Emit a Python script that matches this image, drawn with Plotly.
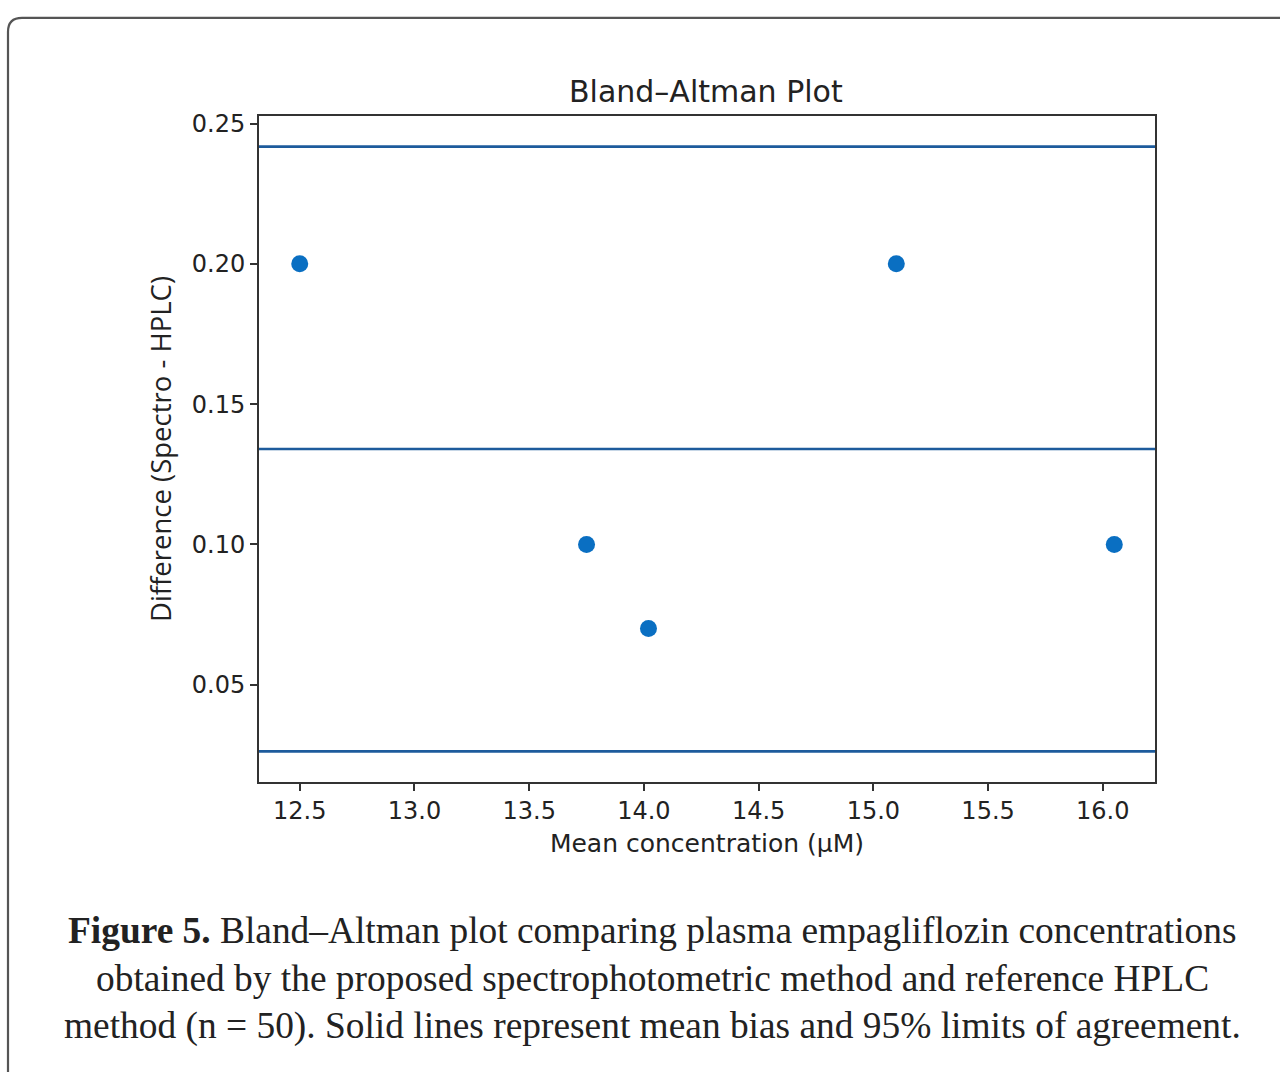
import numpy as np
import plotly.graph_objects as go

# Data
mean_conc = [12.5, 13.75, 14.02, 15.1, 16.05]
difference = [0.20, 0.10, 0.07, 0.20, 0.10]
x_ticks = [12.5, 13.0, 13.5, 14.0, 14.5, 15.0, 15.5, 16.0]
y_ticks = [0.05, 0.10, 0.15, 0.20, 0.25]

title_text = "Bland–Altman Plot"
x_title = "Mean concentration (μM)"
y_title = "Difference (Spectro - HPLC)"
caption_lines = [
    "<b>Figure 5.</b> Bland–Altman plot comparing plasma empagliflozin concentrations",
    "obtained by the proposed spectrophotometric method and reference HPLC",
    "method (n = 50). Solid lines represent mean bias and 95% limits of agreement.",
]

W, H = 1280, 1072
diffs = np.array(difference)
bias = diffs.mean()
sd = diffs.std()
loa_hi = bias + 1.96 * sd
loa_lo = bias - 1.96 * sd

def padded(lo, hi, m=0.05):
    r = hi - lo
    return [lo - m * r, hi + m * r]

xr = padded(min(mean_conc), max(mean_conc))
yr = padded(min(min(difference), loa_lo), max(max(difference), loa_hi))

def px(x):
    return x / W

def py(y):
    return 1 - y / H

fig = go.Figure()
fig.add_trace(go.Scatter(
    x=mean_conc, y=difference, mode="markers",
    marker=dict(size=17, color="#0a6fc2", line=dict(width=0)),
    showlegend=False, hoverinfo="skip",
))

for v in [loa_hi, bias, loa_lo]:
    fig.add_shape(type="line", xref="x domain", yref="y", x0=0, x1=1, y0=v, y1=v,
                  line=dict(color="#1d5b9c", width=2.6), layer="above")

tickfont = dict(family="DejaVu Sans", size=24, color="#222")
fig.update_xaxes(
    domain=[px(259), px(1155)], range=xr, tickvals=x_ticks,
    ticktext=[f"{t:.1f}" for t in x_ticks],
    showgrid=False, zeroline=False, showline=True, mirror=True,
    linecolor="#333", linewidth=2, ticks="outside", ticklen=7, tickwidth=1.5,
    tickcolor="#333", tickfont=tickfont,
    title=dict(text=x_title, font=dict(family="DejaVu Sans", size=25, color="#222"), standoff=10),
)
fig.update_yaxes(
    domain=[py(780), py(111)], range=yr, tickvals=y_ticks,
    ticktext=[f"{t:.2f}" for t in y_ticks],
    showgrid=False, zeroline=False, showline=True, mirror=True,
    linecolor="#333", linewidth=2, ticks="outside", ticklen=7, tickwidth=1.5,
    tickcolor="#333", tickfont=tickfont,
    title=dict(text=y_title, font=dict(family="Open Sans", size=27.5, color="#222"), standoff=12),
)

# Rounded border around the figure panel
r = 14
x0, y0, x1, y1 = 8, 12, 1300, 1100
path = (f"M {px(x0)},{py(y1)} L {px(x0)},{py(y0 + r)} "
        f"Q {px(x0)},{py(y0)} {px(x0 + r)},{py(y0)} L {px(x1)},{py(y0)}")
fig.add_shape(type="path", xref="paper", yref="paper", path=path,
              line=dict(color="#555", width=2.2), layer="below")

fig.add_annotation(text=title_text, xref="paper", yref="paper", x=px(706), y=py(86),
                   xanchor="center", yanchor="middle", showarrow=False,
                   font=dict(family="DejaVu Sans", size=30, color="#222"))

for i, line in enumerate(caption_lines):
    fig.add_annotation(text=line, xref="paper", yref="paper", x=px(652), y=py(930 + 48 * i),
                       xanchor="center", yanchor="middle", showarrow=False,
                       font=dict(family="Liberation Serif", size=37.4, color="#222"))

fig.update_layout(
    width=W, height=H, margin=dict(l=0, r=0, t=0, b=0),
    paper_bgcolor="white", plot_bgcolor="white",
)

fig.write_html("out.html")
